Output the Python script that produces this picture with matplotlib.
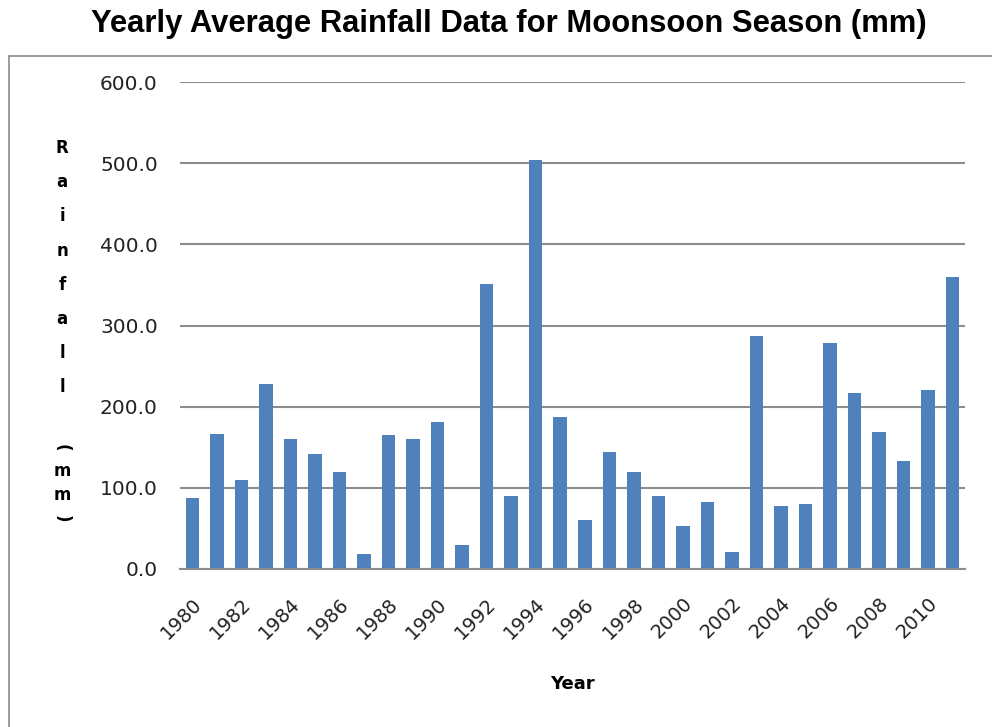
import matplotlib
matplotlib.use("Agg")
import matplotlib.pyplot as plt
from matplotlib.patches import Rectangle
import numpy as np

# Yearly average moonsoon rainfall (mm), 1980-2011
years = list(range(1980, 2012))
rainfall = [87.0, 166.5, 109.5, 228.1, 160.0, 141.5, 119.0, 18.5,
            164.5, 160.0, 180.5, 29.9, 350.7, 89.4, 503.7, 187.0,
            59.9, 143.6, 119.0, 89.4, 52.9, 82.4, 20.9, 287.1,
            77.9, 80.0, 278.1, 216.6, 169.0, 132.5, 221.1, 359.7]
y_ticks = [0, 100, 200, 300, 400, 500, 600]
title = "Yearly Average Rainfall Data for Moonsoon Season (mm)"

W, H = 992, 727
BAR_COLOR = "#4F81BD"
GRID_COLOR = "#8C8C8C"

fig = plt.figure(figsize=(W / 100, H / 100), dpi=100)
fig.patch.set_facecolor("white")

# chart frame around the plot area
fig.patches.append(Rectangle((9 / W, -0.1), 1.2, 1 - 56 / H + 0.1,
                             transform=fig.transFigure, fill=False,
                             edgecolor="#8A8A8A", linewidth=1.2))

ax = fig.add_axes([180 / W, 1 - 569 / H, (965 - 180) / W, (569 - 82) / H])
x = np.arange(len(years))
ax.bar(x, rainfall, width=0.55, color=BAR_COLOR, zorder=3)

ax.set_xlim(-0.5, len(years) - 0.5)
ax.set_ylim(0, 600)
ax.set_yticks(y_ticks)
ax.set_yticklabels([f"{v:.1f}" for v in y_ticks], fontsize=14.5,
                   color="#222222", family="DejaVu Sans")
ax.yaxis.grid(True, color=GRID_COLOR, linewidth=1.5, zorder=0)
ax.tick_params(axis="y", length=0, pad=16)

# label every second year
ax.set_xticks(x[::2])
ax.set_xticklabels([str(y) for y in years[::2]], rotation=45, ha="right",
                   rotation_mode="anchor", fontsize=14, color="#222222",
                   family="DejaVu Sans")
ax.tick_params(axis="x", length=0, pad=18)

for side in ["top", "right", "left"]:
    ax.spines[side].set_visible(False)
ax.spines["bottom"].set_color(GRID_COLOR)
ax.spines["bottom"].set_linewidth(1.5)
ax.spines["bottom"].set_zorder(4)

fig.text(509 / W, 1 - 24 / H, title, ha="center", va="center",
         fontsize=22.3, fontweight="bold", family="Liberation Sans")

fig.text(572 / W, 1 - 684 / H, "Year", ha="center", va="center",
         fontsize=13, fontweight="bold", family="DejaVu Sans")

# stacked vertical y-axis label
ylab_y = 148
for i, ch in enumerate("Rainfall"):
    fig.text(62 / W, 1 - (ylab_y + i * 34.2) / H, ch, ha="center",
             va="center", fontsize=12, fontweight="bold",
             family="DejaVu Sans")
ylab_y = 448
for i, ch in enumerate("(mm)"):
    rot = 270 if ch in "()" else 0
    fig.text(62 / W, 1 - (ylab_y + i * 23.5) / H, ch, ha="center",
             va="center", fontsize=12, fontweight="bold", rotation=rot,
             rotation_mode="anchor", family="DejaVu Sans")

fig.savefig("out.png", dpi=100, facecolor="white")
